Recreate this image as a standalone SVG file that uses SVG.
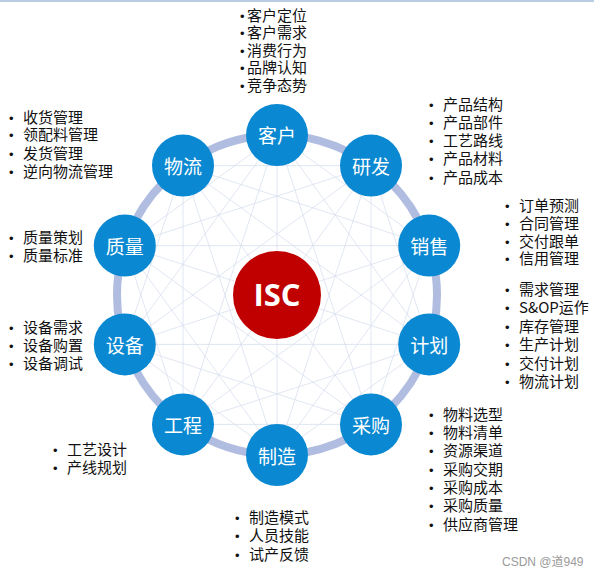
<svg xmlns="http://www.w3.org/2000/svg" width="594" height="577" viewBox="0 0 594 577">
<defs>
<style>
.ring{fill:none;stroke:#b0bde0;stroke-width:8}
.mesh line{stroke:#d8e0ef;stroke-width:0.8}
.node circle{fill:#0a89d2}
.node text{fill:#fff;font-family:"Noto Sans CJK SC","Noto Sans",sans-serif;font-size:19px;text-anchor:middle;dominant-baseline:central}
.isc circle{fill:#c00000}
.isc text{fill:#fff;font-family:"Open Sans","Noto Sans",sans-serif;font-weight:bold;font-size:31px;text-anchor:middle;dominant-baseline:central}
.lst{font-family:"Noto Sans CJK SC","Noto Sans",sans-serif;font-size:15px;fill:#111}
.b{font-family:"Liberation Sans",Arial,sans-serif;font-size:13px}
.wm{font-family:"Liberation Sans","Noto Sans CJK SC",sans-serif;font-size:12px;fill:#9a9a9a}
</style>
</defs>
<rect x="0" y="0" width="594" height="577" fill="#fff"/>
<rect x="0" y="0" width="594" height="2" fill="#b9cce2"/>
<circle class="ring" cx="277" cy="295" r="160"/>
<g id="connectors" class="mesh">
<line x1="277" y1="135" x2="429.2" y2="245.6"/><line x1="277" y1="135" x2="429.2" y2="344.4"/><line x1="277" y1="135" x2="371" y2="424.4"/><line x1="277" y1="135" x2="277" y2="455"/><line x1="277" y1="135" x2="183" y2="424.4"/><line x1="277" y1="135" x2="124.8" y2="344.4"/><line x1="277" y1="135" x2="124.8" y2="245.6"/>
<line x1="371" y1="165.6" x2="429.2" y2="344.4"/><line x1="371" y1="165.6" x2="371" y2="424.4"/><line x1="371" y1="165.6" x2="277" y2="455"/><line x1="371" y1="165.6" x2="183" y2="424.4"/><line x1="371" y1="165.6" x2="124.8" y2="344.4"/><line x1="371" y1="165.6" x2="124.8" y2="245.6"/><line x1="371" y1="165.6" x2="183" y2="165.6"/>
<line x1="429.2" y1="245.6" x2="371" y2="424.4"/><line x1="429.2" y1="245.6" x2="277" y2="455"/><line x1="429.2" y1="245.6" x2="183" y2="424.4"/><line x1="429.2" y1="245.6" x2="124.8" y2="344.4"/><line x1="429.2" y1="245.6" x2="124.8" y2="245.6"/><line x1="429.2" y1="245.6" x2="183" y2="165.6"/>
<line x1="429.2" y1="344.4" x2="277" y2="455"/><line x1="429.2" y1="344.4" x2="183" y2="424.4"/><line x1="429.2" y1="344.4" x2="124.8" y2="344.4"/><line x1="429.2" y1="344.4" x2="124.8" y2="245.6"/><line x1="429.2" y1="344.4" x2="183" y2="165.6"/>
<line x1="371" y1="424.4" x2="183" y2="424.4"/><line x1="371" y1="424.4" x2="124.8" y2="344.4"/><line x1="371" y1="424.4" x2="124.8" y2="245.6"/><line x1="371" y1="424.4" x2="183" y2="165.6"/>
<line x1="277" y1="455" x2="124.8" y2="344.4"/><line x1="277" y1="455" x2="124.8" y2="245.6"/><line x1="277" y1="455" x2="183" y2="165.6"/>
<line x1="183" y1="424.4" x2="124.8" y2="245.6"/><line x1="183" y1="424.4" x2="183" y2="165.6"/>
<line x1="124.8" y1="344.4" x2="183" y2="165.6"/>
</g>
<g id="isc" class="isc"><circle cx="277" cy="295" r="44"/><text x="277" y="294">ISC</text></g>
<g id="kehu" class="node"><circle cx="277" cy="135" r="31"/><text x="277" y="134">客户</text></g>
<g id="yanfa" class="node"><circle cx="371" cy="165.6" r="31"/><text x="371" y="165">研发</text></g>
<g id="xiaoshou" class="node"><circle cx="429.2" cy="245.6" r="31"/><text x="429.2" y="245">销售</text></g>
<g id="jihua" class="node"><circle cx="429.2" cy="344.4" r="31"/><text x="429.2" y="344">计划</text></g>
<g id="caigou" class="node"><circle cx="371" cy="424.4" r="31"/><text x="371" y="424">采购</text></g>
<g id="zhizao" class="node"><circle cx="277" cy="455" r="31"/><text x="277" y="455">制造</text></g>
<g id="gongcheng" class="node"><circle cx="183" cy="424.4" r="31"/><text x="183" y="424">工程</text></g>
<g id="shebei" class="node"><circle cx="124.8" cy="344.4" r="31"/><text x="124.8" y="344">设备</text></g>
<g id="zhiliang" class="node"><circle cx="124.8" cy="245.6" r="31"/><text x="124.8" y="245">质量</text></g>
<g id="wuliu" class="node"><circle cx="183" cy="165.6" r="31"/><text x="183" y="165">物流</text></g>
<g id="list-kehu" class="lst">
<text y="20.5"><tspan class="b" x="240">•</tspan><tspan x="247">客户定位</tspan></text>
<text y="38"><tspan class="b" x="240">•</tspan><tspan x="247">客户需求</tspan></text>
<text y="55.5"><tspan class="b" x="240">•</tspan><tspan x="247">消费行为</tspan></text>
<text y="73"><tspan class="b" x="240">•</tspan><tspan x="247">品牌认知</tspan></text>
<text y="90.5"><tspan class="b" x="240">•</tspan><tspan x="247">竞争态势</tspan></text>
</g>
<g id="list-yanfa" class="lst">
<text y="109.5"><tspan class="b" x="429">•</tspan><tspan x="443">产品结构</tspan></text>
<text y="127.8"><tspan class="b" x="429">•</tspan><tspan x="443">产品部件</tspan></text>
<text y="146"><tspan class="b" x="429">•</tspan><tspan x="443">工艺路线</tspan></text>
<text y="164.3"><tspan class="b" x="429">•</tspan><tspan x="443">产品材料</tspan></text>
<text y="182.5"><tspan class="b" x="429">•</tspan><tspan x="443">产品成本</tspan></text>
</g>
<g id="list-xiaoshou" class="lst">
<text y="210.5"><tspan class="b" x="505">•</tspan><tspan x="519">订单预测</tspan></text>
<text y="228.5"><tspan class="b" x="505">•</tspan><tspan x="519">合同管理</tspan></text>
<text y="246.5"><tspan class="b" x="505">•</tspan><tspan x="519">交付跟单</tspan></text>
<text y="264"><tspan class="b" x="505">•</tspan><tspan x="519">信用管理</tspan></text>
</g>
<g id="list-jihua" class="lst">
<text y="294.5"><tspan class="b" x="505">•</tspan><tspan x="519">需求管理</tspan></text>
<text y="313"><tspan class="b" x="505">•</tspan><tspan x="519">S&amp;OP运作</tspan></text>
<text y="331.5"><tspan class="b" x="505">•</tspan><tspan x="519">库存管理</tspan></text>
<text y="350"><tspan class="b" x="505">•</tspan><tspan x="519">生产计划</tspan></text>
<text y="368.5"><tspan class="b" x="505">•</tspan><tspan x="519">交付计划</tspan></text>
<text y="386.5"><tspan class="b" x="505">•</tspan><tspan x="519">物流计划</tspan></text>
</g>
<g id="list-caigou" class="lst">
<text y="419.5"><tspan class="b" x="429">•</tspan><tspan x="443">物料选型</tspan></text>
<text y="438"><tspan class="b" x="429">•</tspan><tspan x="443">物料清单</tspan></text>
<text y="456.3"><tspan class="b" x="429">•</tspan><tspan x="443">资源渠道</tspan></text>
<text y="474.6"><tspan class="b" x="429">•</tspan><tspan x="443">采购交期</tspan></text>
<text y="492.9"><tspan class="b" x="429">•</tspan><tspan x="443">采购成本</tspan></text>
<text y="511.2"><tspan class="b" x="429">•</tspan><tspan x="443">采购质量</tspan></text>
<text y="529.5"><tspan class="b" x="429">•</tspan><tspan x="443">供应商管理</tspan></text>
</g>
<g id="list-zhizao" class="lst">
<text y="522.5"><tspan class="b" x="235">•</tspan><tspan x="249">制造模式</tspan></text>
<text y="541"><tspan class="b" x="235">•</tspan><tspan x="249">人员技能</tspan></text>
<text y="559.5"><tspan class="b" x="235">•</tspan><tspan x="249">试产反馈</tspan></text>
</g>
<g id="list-gongcheng" class="lst">
<text y="454.5"><tspan class="b" x="53">•</tspan><tspan x="67">工艺设计</tspan></text>
<text y="472.5"><tspan class="b" x="53">•</tspan><tspan x="67">产线规划</tspan></text>
</g>
<g id="list-shebei" class="lst">
<text y="332.5"><tspan class="b" x="9">•</tspan><tspan x="23">设备需求</tspan></text>
<text y="351"><tspan class="b" x="9">•</tspan><tspan x="23">设备购置</tspan></text>
<text y="369"><tspan class="b" x="9">•</tspan><tspan x="23">设备调试</tspan></text>
</g>
<g id="list-zhiliang" class="lst">
<text y="242.5"><tspan class="b" x="9">•</tspan><tspan x="23">质量策划</tspan></text>
<text y="260.5"><tspan class="b" x="9">•</tspan><tspan x="23">质量标准</tspan></text>
</g>
<g id="list-wuliu" class="lst">
<text y="122.5"><tspan class="b" x="9">•</tspan><tspan x="23">收货管理</tspan></text>
<text y="140"><tspan class="b" x="9">•</tspan><tspan x="23">领配料管理</tspan></text>
<text y="158.5"><tspan class="b" x="9">•</tspan><tspan x="23">发货管理</tspan></text>
<text y="176.5"><tspan class="b" x="9">•</tspan><tspan x="23">逆向物流管理</tspan></text>
</g>
<text class="wm" x="502" y="566">CSDN @道949</text>
</svg>
